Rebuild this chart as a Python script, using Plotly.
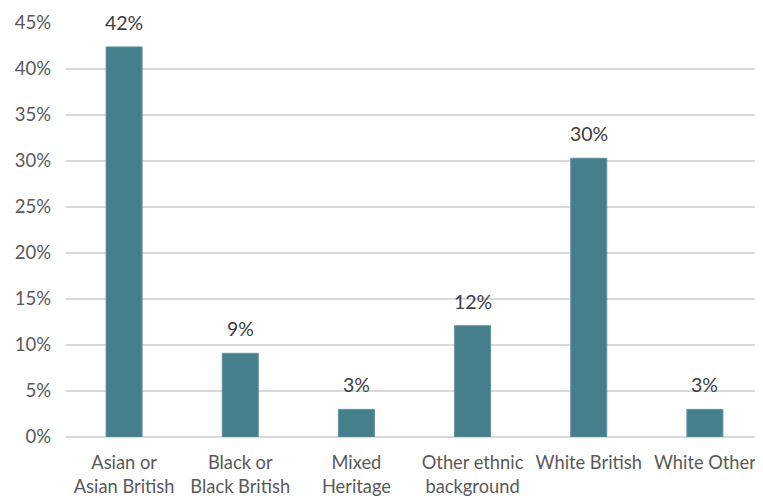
import plotly.graph_objects as go

categories = ["Asian or<br>Asian British", "Black or<br>Black British", "Mixed<br>Heritage",
              "Other ethnic<br>background", "White British", "White Other"]
values = [42.4, 9.1, 3.0, 12.1, 30.3, 3.0]
labels = ["42%", "9%", "3%", "12%", "30%", "3%"]

FONT = "Lato, Open Sans, sans-serif"

fig = go.Figure()
fig.add_trace(go.Bar(x=categories, y=values, marker=dict(color="#467F8C", line=dict(color="#5f939f", width=1)),
                     width=0.31, hoverinfo="skip"))
for c, v, t in zip(categories, values, labels):
    fig.add_annotation(x=c, y=v, text=t, showarrow=False, yanchor="bottom", yshift=11,
                       font=dict(size=19.5, color="#404040", family=FONT))

fig.update_layout(
    width=755, height=491,
    margin=dict(l=58, r=0, t=15, b=62),
    plot_bgcolor="white", paper_bgcolor="white",
    showlegend=False,
    font=dict(family=FONT, size=18, color="#595959"),
)
fig.update_yaxes(range=[0, 45], dtick=5, ticksuffix="%", gridcolor="#d9d9d9", gridwidth=1.5,
                 zeroline=True, zerolinecolor="#d9d9d9", zerolinewidth=1.5,
                 showline=False, ticks="", ticklabelstandoff=14, automargin=False,
                 tickfont=dict(size=18.5, color="#595959"))
fig.update_xaxes(showline=False, ticks="", automargin=False, ticklabelstandoff=13,
                 tickfont=dict(size=18.3, color="#595959"))

fig.write_html("out.html")
